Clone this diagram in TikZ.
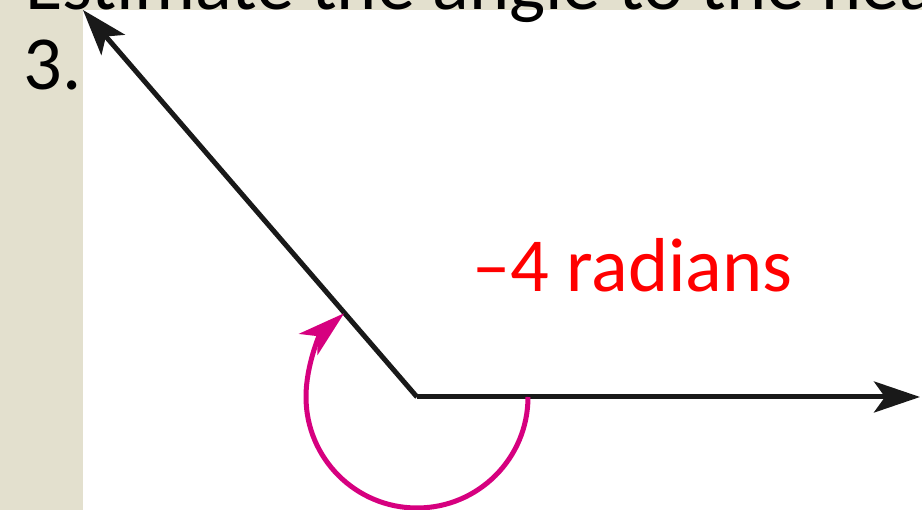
\documentclass[tikz,border=0pt]{standalone}
\usepackage{fontspec}
\setmainfont{Carlito}
\usetikzlibrary{arrows.meta}
\definecolor{slidebg}{RGB}{227,224,206}
\definecolor{turnpink}{RGB}{214,0,127}

\begin{document}
\begin{tikzpicture}[
  ray/.style={line width=0.1cm, black!90, -{Stealth[length=0.92cm, width=0.62cm, inset=0.22cm]}},
  turn/.style={line width=0.1cm, turnpink, -{Stealth[length=0.95cm, width=0.56cm, inset=0.25cm]}},
  bigtext/.style={font=\fontsize{43.5}{50}\selectfont, inner sep=0pt}
]
\useasboundingbox (0,0) rectangle (18.44,10.2);

% slide background and white panel
\fill[slidebg] (0,0) rectangle (18.44,10.2);
\fill[white] (1.66,0) rectangle (18.44,10.0);

% heading (cut off at the top) and number
\begin{scope}
\clip (0,0) rectangle (18.44,10.2);
\node[bigtext, anchor=base west] (head) at (0.5,10.0) {Estimate the angle to the nearest};
\end{scope}
\node[bigtext, anchor=base west] (num) at (0.46,8.4) {3.};

% vertex and ray ends
\coordinate (O) at (8.34,2.26);
\coordinate (R) at (18.4,2.26);
\coordinate (U) at (1.66,10.0);

% rays
\draw[ray] (O) -- (R);
\draw[ray] (O) -- (U);

% turning arc
\draw[turn] ([xshift=2.22cm]O) arc[start angle=0, end angle=-229, radius=2.22];

% label
\node[bigtext, text=red, anchor=base west] (lab) at (9.44,4.36) {–4 radians};

\end{tikzpicture}
\end{document}
